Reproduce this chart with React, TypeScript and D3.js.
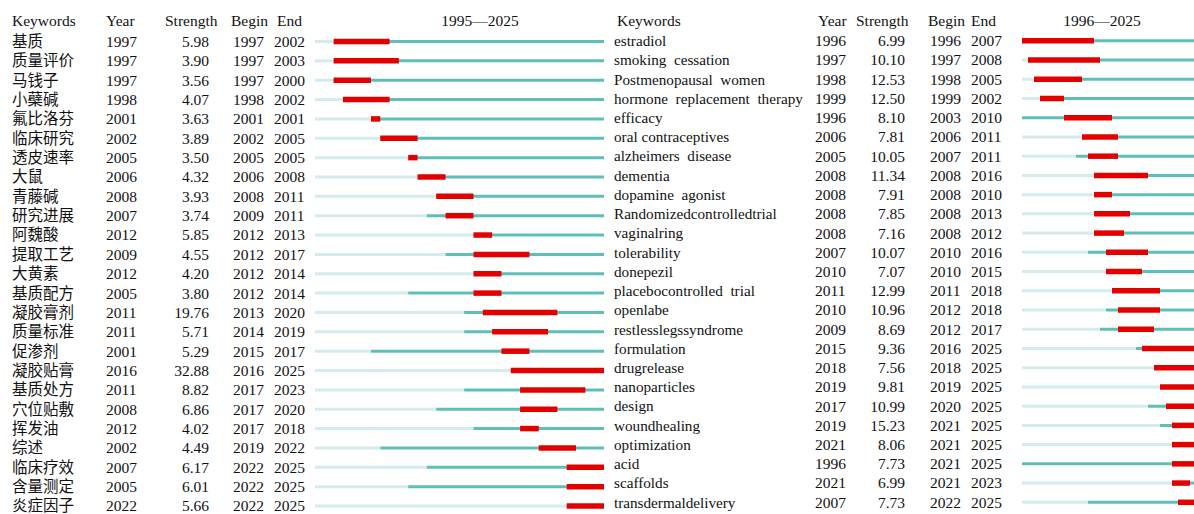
import React from 'react';
import * as d3 from 'd3';

// left table: 1995-2025
const leftKeywords = ['基质','质量评价','马钱子','小蘗碱','氟比洛芬','临床研究','透皮速率','大鼠','青藤碱','研究进展','阿魏酸','提取工艺','大黄素','基质配方','凝胶膏剂','质量标准','促渗剂','凝胶贴膏','基质处方','穴位贴敷','挥发油','综述','临床疗效','含量测定','炎症因子'];
const leftYear = [1997,1997,1997,1998,2001,2002,2005,2006,2008,2007,2012,2009,2012,2005,2011,2011,2001,2016,2011,2008,2012,2002,2007,2005,2022];
const leftStrength = ['5.98','3.90','3.56','4.07','3.63','3.89','3.50','4.32','3.93','3.74','5.85','4.55','4.20','3.80','19.76','5.71','5.29','32.88','8.82','6.86','4.02','4.49','6.17','6.01','5.66'];
const leftBegin = [1997,1997,1997,1998,2001,2002,2005,2006,2008,2009,2012,2012,2012,2012,2013,2014,2015,2016,2017,2017,2017,2019,2022,2022,2022];
const leftEnd = [2002,2003,2000,2002,2001,2005,2005,2008,2011,2011,2013,2017,2014,2014,2020,2019,2017,2025,2023,2020,2018,2022,2025,2025,2025];

// right table: 1996-2025
const rightKeywords = ['estradiol','smoking  cessation','Postmenopausal  women','hormone  replacement  therapy','efficacy','oral contraceptives','alzheimers  disease','dementia','dopamine  agonist','Randomizedcontrolledtrial','vaginalring','tolerability','donepezil','placebocontrolled  trial','openlabe','restlesslegssyndrome','formulation','drugrelease','nanoparticles','design','woundhealing','optimization','acid','scaffolds','transdermaldelivery'];
const rightYear = [1996,1997,1998,1999,1996,2006,2005,2008,2008,2008,2008,2007,2010,2011,2010,2009,2015,2018,2019,2017,2019,2021,1996,2021,2007];
const rightStrength = ['6.99','10.10','12.53','12.50','8.10','7.81','10.05','11.34','7.91','7.85','7.16','10.07','7.07','12.99','10.96','8.69','9.36','7.56','9.81','10.99','15.23','8.06','7.73','6.99','7.73'];
const rightBegin = [1996,1997,1998,1999,2003,2006,2007,2008,2008,2008,2008,2010,2010,2011,2012,2012,2016,2018,2019,2020,2021,2021,2021,2021,2022];
const rightEnd = [2007,2008,2005,2002,2010,2011,2011,2016,2010,2013,2012,2016,2015,2018,2018,2017,2025,2025,2025,2025,2025,2025,2025,2023,2025];

const latin = "'Liberation Serif','Times New Roman',serif";
const cjk = "'Noto Sans CJK SC','Liberation Serif',sans-serif";
const LIGHT = '#d4ecec';
const TEAL = '#5ebfba';
const RED = '#e40000';

function Panel(props: any) {
  const { keywords, year, strength, begin, end, start, stop, xr, yr, cols, title, titleX, kwFont, kwSize } = props;
  const x = d3.scaleLinear().domain([start, stop + 1]).range(xr);
  const y = d3.scaleLinear().domain([0, keywords.length - 1]).range(yr);
  const hy = 21;
  return (
    <g>
      <g fontFamily={latin} fontSize={15.5} fill="#111">
        <text x={cols.kw} y={hy} dy="0.35em">Keywords</text>
        <text x={cols.yearH} y={hy} dy="0.35em">Year</text>
        <text x={cols.strH} y={hy} dy="0.35em">Strength</text>
        <text x={cols.beginH} y={hy} dy="0.35em">Begin</text>
        <text x={cols.endH} y={hy} dy="0.35em">End</text>
        <text x={titleX} y={hy} dy="0.35em" textAnchor="middle">{title}</text>
      </g>
      {keywords.map((k: string, i: number) => {
        const yy = y(i);
        return (
          <g key={i}>
            <text x={cols.kwRow} y={yy} dy="0.35em" fontFamily={kwFont} fontSize={kwSize} fill="#111" style={{ whiteSpace: 'pre' }}>{k}</text>
            <g fontFamily={latin} fontSize={15.5} fill="#111">
              <text x={cols.year} y={yy} dy="0.35em">{year[i]}</text>
              <text x={cols.str} y={yy} dy="0.35em" textAnchor="end">{strength[i]}</text>
              <text x={cols.begin} y={yy} dy="0.35em">{begin[i]}</text>
              <text x={cols.end} y={yy} dy="0.35em">{end[i]}</text>
            </g>
            <line x1={x(start)} x2={x(year[i])} y1={yy} y2={yy} stroke={LIGHT} strokeWidth={3} />
            <line x1={x(year[i])} x2={x(stop + 1)} y1={yy} y2={yy} stroke={TEAL} strokeWidth={3} />
            <line x1={x(begin[i])} x2={x(end[i] + 1)} y1={yy} y2={yy} stroke={RED} strokeWidth={5.5} />
          </g>
        );
      })}
    </g>
  );
}

export default function App() {
  return (
    <svg width={1194} height={514} style={{ position: 'absolute', left: 0, top: 0, background: '#fff' }}>
      <Panel
        keywords={leftKeywords} year={leftYear} strength={leftStrength} begin={leftBegin} end={leftEnd}
        start={1995} stop={2025} xr={[315, 604]} yr={[41.5, 506]}
        cols={{ kw: 12, kwRow: 12, yearH: 106, strH: 165, beginH: 231, endH: 277, year: 106, str: 209, begin: 233, end: 274 }}
        title="1995—2025" titleX={480} kwFont={cjk} kwSize={15.5}
      />
      <Panel
        keywords={rightKeywords} year={rightYear} strength={rightStrength} begin={rightBegin} end={rightEnd}
        start={1996} stop={2025} xr={[1022, 1202]} yr={[40.8, 502.3]}
        cols={{ kw: 617, kwRow: 614, yearH: 818, strH: 856, beginH: 928, endH: 971, year: 815, str: 905, begin: 930, end: 971 }}
        title="1996—2025" titleX={1102} kwFont={latin} kwSize={15.2}
      />
    </svg>
  );
}
